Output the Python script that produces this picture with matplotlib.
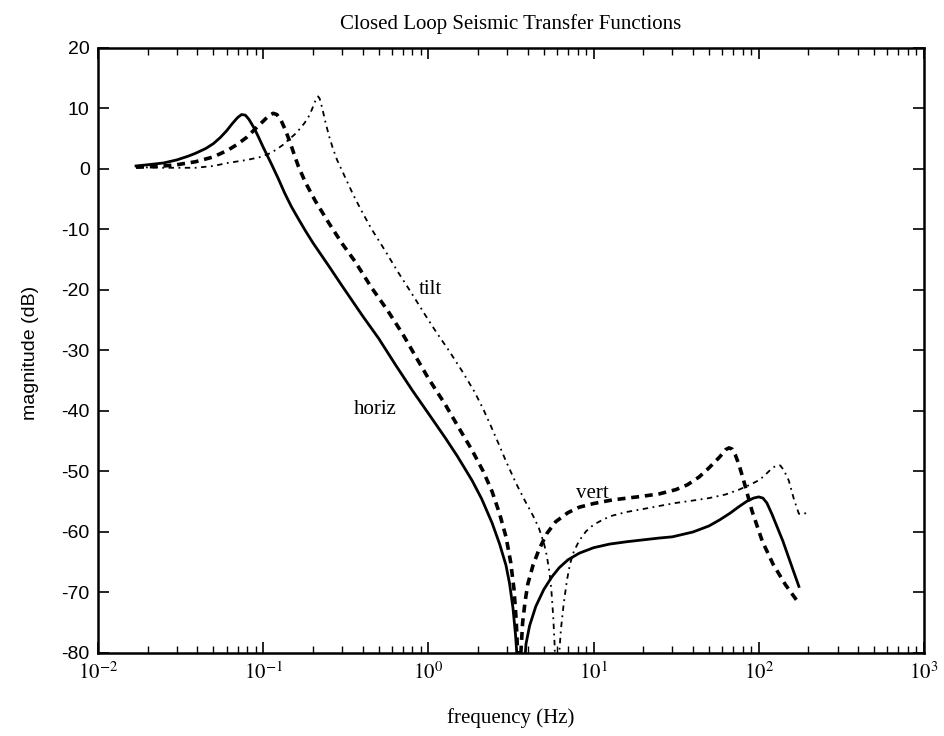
import matplotlib
matplotlib.use("Agg")
import matplotlib.pyplot as plt
from matplotlib.ticker import LogLocator, NullFormatter

plt.rcParams['mathtext.fontset'] = 'stix'

# ---- data ----
horiz_f = [0.017, 0.02, 0.025, 0.03, 0.035, 0.039, 0.045, 0.05, 0.055, 0.06, 0.065, 0.07,
           0.074, 0.078, 0.082, 0.088, 0.094, 0.1, 0.11, 0.123, 0.135, 0.148, 0.163, 0.18,
           0.2, 0.249, 0.3, 0.4, 0.5, 0.63, 0.8, 1.0, 1.27, 1.5, 1.84, 2.1, 2.43, 2.7,
           2.95, 3.1, 3.25, 3.37, 3.45, 3.55, 3.75, 3.82, 3.9, 4.1, 4.47, 5.0, 5.6, 6.2,
           7.0, 8.2, 10, 12.5, 16, 20, 25, 30, 40, 50, 58, 67, 76, 85, 93, 100, 106,
           112, 120, 140, 160, 175]
horiz_db = [0.5, 0.7, 1.0, 1.5, 2.1, 2.6, 3.4, 4.2, 5.2, 6.3, 7.5, 8.5,
            9.0, 8.9, 8.2, 6.8, 5.2, 3.6, 1.3, -1.5, -4.0, -6.2, -8.2, -10.2,
            -12.2, -16.0, -19.3, -24.3, -28.0, -32.3, -36.6, -40.4, -44.5, -47.5, -51.5, -54.5, -58.5, -62.0,
            -65.5, -68.5, -72.5, -77.0, -81.0, -90, -90, -82.0, -78.5, -75.5, -72.3, -69.5, -67.4, -65.9,
            -64.6, -63.5, -62.6, -62.0, -61.6, -61.3, -61.0, -60.8, -60.0, -59.0, -58.0, -56.9, -55.8, -54.9, -54.4, -54.2, -54.4,
            -55.2, -57.0, -61.5, -66.0, -69.0]

vert_f = [0.017, 0.02, 0.025, 0.03, 0.039, 0.05, 0.061, 0.07, 0.08, 0.09, 0.1, 0.108,
          0.115, 0.121, 0.128, 0.136, 0.145, 0.155, 0.163, 0.18, 0.207, 0.248, 0.3, 0.36,
          0.45, 0.57, 0.7, 0.85, 1.0, 1.27, 1.5, 1.84, 2.15, 2.43, 2.7, 2.95, 3.15, 3.3,
          3.4, 3.47, 3.52, 3.58, 3.63, 3.72, 3.85, 4.0, 4.3, 4.66, 5.2, 5.9, 7.0, 8.2,
          10, 13, 19.7, 25, 31.5, 37, 43.6, 50, 58, 63, 66, 69, 72, 76, 82, 91, 105,
          122, 145, 175]
vert_db = [0.3, 0.35, 0.5, 0.7, 1.2, 2.0, 3.1, 4.1, 5.3, 6.7, 7.9, 8.8,
           9.2, 9.0, 8.1, 6.5, 4.5, 2.2, 0.5, -2.2, -5.3, -8.8, -12.3, -15.3,
           -19.5, -23.5, -27.3, -31.3, -34.6, -39.0, -42.4, -46.5, -50.0, -53.3, -57.0, -60.8, -65.0, -69.5,
           -74.5, -80.0, -90, -90, -80.0, -75.0, -71.5, -68.6, -65.5, -63.0, -60.3, -58.3, -56.8, -55.9,
           -55.3, -54.7, -54.1, -53.7, -53.0, -52.2, -50.9, -49.4, -47.6, -46.4, -46.1, -46.3, -47.2, -48.9, -52.0, -56.5, -61.5,
           -65.3, -68.7, -71.8]

tilt_f = [0.017, 0.025, 0.039, 0.05, 0.061, 0.08, 0.097, 0.11, 0.12, 0.132, 0.142, 0.155,
          0.165, 0.178, 0.188, 0.197, 0.205, 0.21, 0.215, 0.22, 0.228, 0.238, 0.25, 0.265,
          0.28, 0.315, 0.35, 0.39, 0.45, 0.55, 0.65, 0.79, 0.95, 1.1, 1.33, 1.6, 1.9,
          2.15, 2.4, 2.7, 2.95, 3.4, 3.87, 4.3, 4.66, 5.0, 5.2, 5.4, 5.55, 5.7, 5.82,
          5.9, 6.1, 6.2, 6.35, 6.6, 6.9, 7.2, 7.6, 8.2, 9.0, 10, 11.5, 13, 15.8, 20,
          25, 31.5, 40, 50, 63, 76, 90, 101, 110, 120, 128, 135, 142, 152, 163, 175, 195]
tilt_db = [0.3, 0.2, 0.2, 0.5, 1.0, 1.5, 2.0, 2.6, 3.2, 4.0, 4.8, 5.7,
           6.5, 7.6, 8.6, 9.8, 11.0, 11.7, 12.0, 11.6, 10.0, 7.8, 5.5, 3.3,
           1.5, -1.5, -4.2, -6.7, -9.8, -13.6, -16.9, -20.5, -24.0, -26.7, -30.0, -33.4, -36.8,
           -39.7, -42.6, -45.8, -48.3, -52.0, -55.0, -57.3, -59.3, -61.8, -63.8, -66.5, -69.5, -74.0, -79.0,
           -90, -90, -80.0, -76.0, -71.8, -68.0, -65.3, -63.2, -61.4, -59.9, -58.8, -57.9, -57.3, -56.7, -56.2,
           -55.7, -55.2, -54.8, -54.4, -53.8, -53.0, -52.1, -51.4, -50.5, -49.5, -49.0, -49.0, -49.8, -51.5, -54.5, -57.0, -56.9]

curve_labels = ["horiz", "vert", "tilt"]
label_f = [0.48, 9.87, 1.03]
label_db = [-39.8, -53.6, -20.0]

title = "Closed Loop Seismic Transfer Functions"
xlabel = "frequency (Hz)"
ylabel = "magnitude (dB)"
yticks = [20, 10, 0, -10, -20, -30, -40, -50, -60, -70, -80]
xticks = [1e-2, 1e-1, 1e0, 1e1, 1e2, 1e3]
xticklabels = [r"$10^{-2}$", r"$10^{-1}$", r"$10^{0}$", r"$10^{1}$", r"$10^{2}$", r"$10^{3}$"]

# ---- figure ----
fig = plt.figure(figsize=(9.45, 7.36), dpi=100)
ax = fig.add_axes([0.1037, 0.1128, 0.874, 0.822])

ax.plot(horiz_f, horiz_db, color='black', lw=2.0, linestyle='-', solid_joinstyle='round')
ax.plot(vert_f, vert_db, color='black', lw=2.6, linestyle=(0, (2.2, 1.6)))
ax.plot(tilt_f, tilt_db, color='black', lw=1.3, linestyle=(0, (3, 2.5, 1, 2.5)))

ax.set_xscale('log')
ax.set_xlim(1e-2, 1e3)
ax.set_ylim(-80, 20)

ax.set_xticks(xticks)
ax.set_xticklabels(xticklabels, fontsize=15)
ax.xaxis.set_minor_locator(LogLocator(base=10, subs=range(2, 10), numticks=20))
ax.xaxis.set_minor_formatter(NullFormatter())
ax.set_yticks(yticks)
ax.set_yticklabels([str(v) for v in yticks], fontsize=14, family='Liberation Sans')

ax.tick_params(which='major', direction='in', length=8, width=1.2, top=True, right=True, pad=6)
ax.tick_params(which='minor', direction='in', length=5, width=1.0, top=True, right=True)
for s in ax.spines.values():
    s.set_linewidth(1.8)

for t, fx, fy in zip(curve_labels, label_f, label_db):
    ax.text(fx, fy, t, ha='center', va='center', fontsize=15, family='Liberation Serif')

fig.text(0.5405, 0.968, title, ha='center', va='center', fontsize=15, family='Liberation Serif')
fig.text(0.5405, 0.025, xlabel, ha='center', va='center', fontsize=15, family='Liberation Serif')
fig.text(0.032, 0.52, ylabel, ha='center', va='center', rotation=90, fontsize=14,
         family='Liberation Sans')

fig.savefig("out.png", dpi=100)
